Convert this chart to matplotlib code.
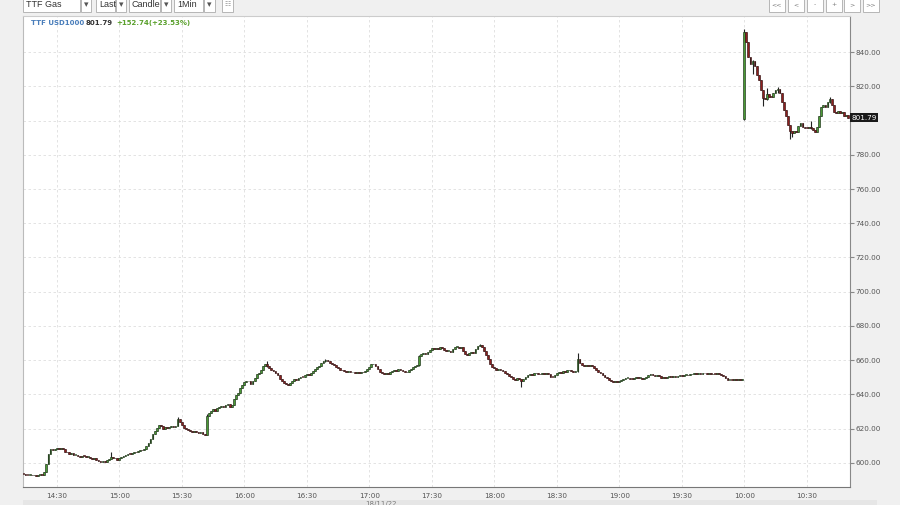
import matplotlib
matplotlib.use("Agg")
import matplotlib.pyplot as plt
from matplotlib.patches import Rectangle
import numpy as np

# ---- data (1-minute candles) ----
day1_start = (14, 14)
day2_start = (10, 0)
day1_open = 593.4
day1_closes = [
    593.2, 593.0, 592.8, 593.1, 592.6, 592.9, 592.5, 592.7, 593.0, 592.8,
    594.5, 599.0, 605.0, 608.0, 607.5, 608.2, 608.5, 607.8, 608.4, 608.0,
    606.5, 606.0, 605.2, 605.5, 604.6, 604.8, 604.0, 603.5, 604.2, 603.8,
    603.2, 603.6, 603.0, 602.4, 602.8, 601.8, 601.2, 600.5, 600.8, 600.2,
    601.5, 602.3, 603.5, 602.5, 603.0, 601.8, 602.5, 603.2, 603.8, 604.5,
    605.2, 605.0, 605.8, 606.4, 606.0, 606.8, 607.4, 607.2, 608.2, 609.5,
    611.5, 613.8, 616.5, 618.5, 620.4, 621.8, 621.2, 620.0, 620.6, 620.2,
    621.0, 621.5, 620.8, 621.6, 625.5, 624.0, 622.0, 620.5, 619.8, 619.0,
    618.6, 618.2, 618.8, 618.0, 617.4, 617.8, 617.0, 616.2, 627.5, 629.0,
    630.0, 631.2, 630.5, 631.8, 632.8, 633.4, 632.6, 633.8, 634.2, 632.5,
    634.0, 637.0, 639.8, 641.0, 643.5, 645.6, 647.2, 648.0, 647.5, 646.2,
    647.5, 649.8, 651.8, 652.5, 654.5, 656.5, 657.8, 656.5, 655.2, 654.2,
    653.5, 652.2, 651.5, 649.2, 647.6, 646.5, 646.2, 645.6, 646.8, 647.5,
    649.0, 648.6, 649.8, 650.4, 650.0, 651.2, 651.8, 651.4, 652.6, 653.4,
    654.6, 655.8, 656.5, 658.2, 659.4, 660.0, 659.2, 658.5, 657.8, 657.0,
    656.2, 655.6, 654.5, 654.0, 653.6, 653.2, 653.5, 652.8, 653.1, 652.6,
    653.0, 652.7, 653.2, 652.8, 653.4, 654.8, 656.2, 657.5, 657.8, 656.8,
    655.0, 653.2, 652.5, 651.6, 652.2, 652.0, 652.8, 653.5, 654.0, 653.8,
    654.6, 654.2, 653.5, 652.8, 653.2, 654.0, 655.0, 655.8, 656.5, 657.0,
    662.5, 663.8, 664.2, 663.6, 664.8, 666.0, 666.8, 666.4, 667.2, 666.6,
    667.4, 666.8, 665.8, 665.2, 665.6, 665.0, 666.2, 667.6, 667.8, 667.2,
    667.5, 665.5, 663.8, 663.2, 664.0, 664.5, 664.2, 666.5, 668.2, 668.6,
    667.5, 665.6, 663.0, 660.5, 657.8, 656.0, 655.2, 654.5, 654.8, 654.0,
    653.4, 652.6, 651.8, 650.6, 650.2, 649.2, 648.4, 649.6, 648.8, 647.5,
    649.2, 650.4, 651.0, 651.6, 651.4, 652.2, 652.6, 652.0, 651.6, 652.2,
    651.8, 652.4, 651.6, 650.4, 650.0, 651.2, 652.4, 653.0, 652.6, 653.6,
    653.2, 654.0, 654.5, 653.8, 653.2, 653.4, 660.5, 658.5, 657.0, 656.8,
    657.2, 656.6, 657.0, 656.4, 655.2, 654.0, 653.2, 652.4, 651.2, 650.4,
    649.4, 648.6, 647.8, 647.2, 647.6, 647.2, 648.0, 648.4, 648.8, 649.4,
    649.8, 649.2, 648.8, 649.6, 650.0, 649.4, 649.8, 649.2, 649.6, 650.2,
    651.2, 651.8, 651.4, 650.8, 651.2, 650.6, 649.8, 650.2, 649.6, 650.0,
    650.4, 650.2, 650.8, 650.4, 650.6, 651.0, 650.6, 651.2, 651.4, 651.0,
    651.6, 651.8, 652.2, 651.8, 652.4, 652.0, 652.6, 652.2, 651.8, 652.2,
    651.6, 652.0, 651.8, 652.2, 651.6, 651.2, 650.6, 649.4, 648.4, 648.6,
    648.2, 648.8, 648.4, 649.0, 648.6, 649.05,
]
day2_open = 801.0
day2_closes = [
    852.0, 846.0, 837.0, 833.0, 835.0, 832.0, 826.5, 824.0, 818.0, 813.0,
    812.5, 815.5, 814.0, 813.8, 816.0, 818.0, 818.5, 816.0, 811.0, 806.5,
    803.0, 797.5, 794.0, 793.0, 794.0, 793.5, 796.8, 798.5, 796.4, 796.0,
    795.6, 796.2, 795.5, 794.6, 793.5, 796.5, 803.0, 808.0, 809.0, 808.2,
    810.8, 812.8, 809.0, 805.0, 804.5, 805.5, 804.2, 805.0, 802.5, 803.5,
    801.79,
]
# candles with visible wicks: index -> (high, low)
wicks = {
    42: (606.0, 602.0), 74: (627.0, 621.4), 88: (628.5, 616.0),
    117: (659.5, 656.0), 145: (660.8, 659.0), 190: (663.0, 656.8),
    219: (669.2, 668.0), 239: (649.0, 644.0), 266: (664.0, 653.2),
    346: (853.5, 800.5), 350: (835.5, 827.0), 355: (818.0, 808.5),
    357: (819.0, 812.0), 362: (819.8, 816.0), 368: (797.5, 789.0),
    369: (794.0, 790.5), 378: (800.0, 795.0), 387: (814.0, 810.5),
}
symbol = "TTF USD1000"
change = 152.74
change_pct = 23.53

# ---- build OHLC ----
closes = np.array(day1_closes + day2_closes)
opens = np.concatenate([[day1_open], day1_closes[:-1], [day2_open], day2_closes[:-1]])
highs = np.maximum(opens, closes)
lows = np.minimum(opens, closes)
for i, (h, l) in wicks.items():
    highs[i] = h
    lows[i] = l
idx = np.arange(len(closes))

m1 = day1_start[0] * 60 + day1_start[1]
m2 = day2_start[0] * 60 + day2_start[1]
minutes = [m1 + k for k in range(len(day1_closes))] + [m2 + k for k in range(len(day2_closes))]
tick_pos = [i for i, m in enumerate(minutes) if m % 30 == 0]
tick_lab = [f"{minutes[i] // 60}:{minutes[i] % 60:02d}" for i in tick_pos]

W, H = 900, 505
fig = plt.figure(figsize=(W / 100, H / 100), dpi=100, facecolor="#f0f0f0")
ax = fig.add_axes([23 / W, 1 - 487 / H, (850 - 23) / W, (487 - 16) / H])
ax.set_facecolor("white")

up = closes >= opens
body_lo = np.minimum(opens, closes)
body_h = np.maximum(np.abs(closes - opens), 0.5)

ax.vlines(idx, lows, highs, color="#222222", lw=0.8, zorder=2)
ax.bar(idx[up], body_h[up], bottom=body_lo[up], width=0.85,
       color="#4a9a35", edgecolor="#1f331a", lw=0.45, zorder=3)
ax.bar(idx[~up], body_h[~up], bottom=body_lo[~up], width=0.85,
       color="#8e1f1f", edgecolor="#331515", lw=0.45, zorder=3)

ax.set_xlim(-0.2, 396.8)
ax.set_ylim(585.8, 861.2)

last = closes[-1]
ax.set_xticks(tick_pos)
ax.set_xticklabels(tick_lab)
yt = list(range(600, 841, 20))
ax.set_yticks(yt)
# the 800.00 label sits under the last-price tag
ax.set_yticklabels(["" if abs(v - last) < 6 else f"{v:.2f}" for v in yt])
ax.yaxis.tick_right()
ax.tick_params(axis="y", length=3, color="#888888", labelsize=5.2, labelcolor="#555555", pad=1)
ax.tick_params(axis="x", length=0, labelsize=5.2, labelcolor="#555555", pad=4)
ax.grid(True, color="#dedede", linestyle=(0, (3, 3)), lw=0.6)
ax.set_axisbelow(True)

ax.spines["left"].set_color("#bbbbbb")
ax.spines["top"].set_color("#cccccc")
ax.spines["right"].set_color("#888888")
ax.spines["bottom"].set_color("#777777")
for s in ax.spines.values():
    s.set_linewidth(0.8)

# last price tag
ax.text(1.002, last, f"{last:.2f}", transform=ax.get_yaxis_transform(),
        ha="left", va="center", fontsize=5.2, color="white", clip_on=False,
        bbox=dict(boxstyle="square,pad=0.2", fc="#1a1a1a", ec="none"), zorder=5)

# ---- overlay in pixel coordinates for header / toolbar ----
ui = fig.add_axes([0, 0, 1, 1])
ui.set_xlim(0, W)
ui.set_ylim(H, 0)
ui.axis("off")
ui.patch.set_visible(False)

ui.text(31, 23, symbol, fontsize=5, fontweight="bold", color="#4a7ebb", va="center")
ui.text(86, 23, f"{last:.2f}", fontsize=5, fontweight="bold", color="#333333", va="center")
ui.text(116, 23, f"+{change:.2f}(+{change_pct:.2f}%)", fontsize=5,
        fontweight="bold", color="#5aa02c", va="center")


def box(x0, x1, y0=-3, y1=12):
    ui.add_patch(Rectangle((x0, y0), x1 - x0, y1 - y0, fc="white", ec="#b5b5b5", lw=0.7))


dropdowns = [("TTF Gas", 23, 80, 91), ("Last", 96, 115, 126),
             ("Candle", 129, 160, 171), ("1Min", 174, 203, 215)]
for label, x0, xa, x1 in dropdowns:
    box(x0, xa)
    box(xa + 1, x1)
    ui.text(x0 + 3, 4.5, label, fontsize=6.5, family="Liberation Sans",
            color="#333333", va="center", clip_on=True)
    ui.text((xa + 1 + x1) / 2, 5, "\u25be", fontsize=6.5, color="#555555",
            ha="center", va="center")
box(222, 233)
ui.text(227.5, 4.5, "\u2637", fontsize=5, color="#999999", ha="center", va="center")

nav = ["<<", "<", "-", "+", ">", ">>"]
nav_x = [769, 788, 807, 826, 844, 863]
for lab, x0 in zip(nav, nav_x):
    box(x0, x0 + 16)
    ui.text(x0 + 8, 5, lab, fontsize=4.5, color="#777777", ha="center", va="center")

# navigator strip at bottom
ui.add_patch(Rectangle((23, 500), 854, 8, fc="#e6e6e6", ec="none"))
ui.text(365, 501, "18/11/22", fontsize=5, color="#777777", va="top")

fig.savefig("out.png", dpi=100, facecolor=fig.get_facecolor())
